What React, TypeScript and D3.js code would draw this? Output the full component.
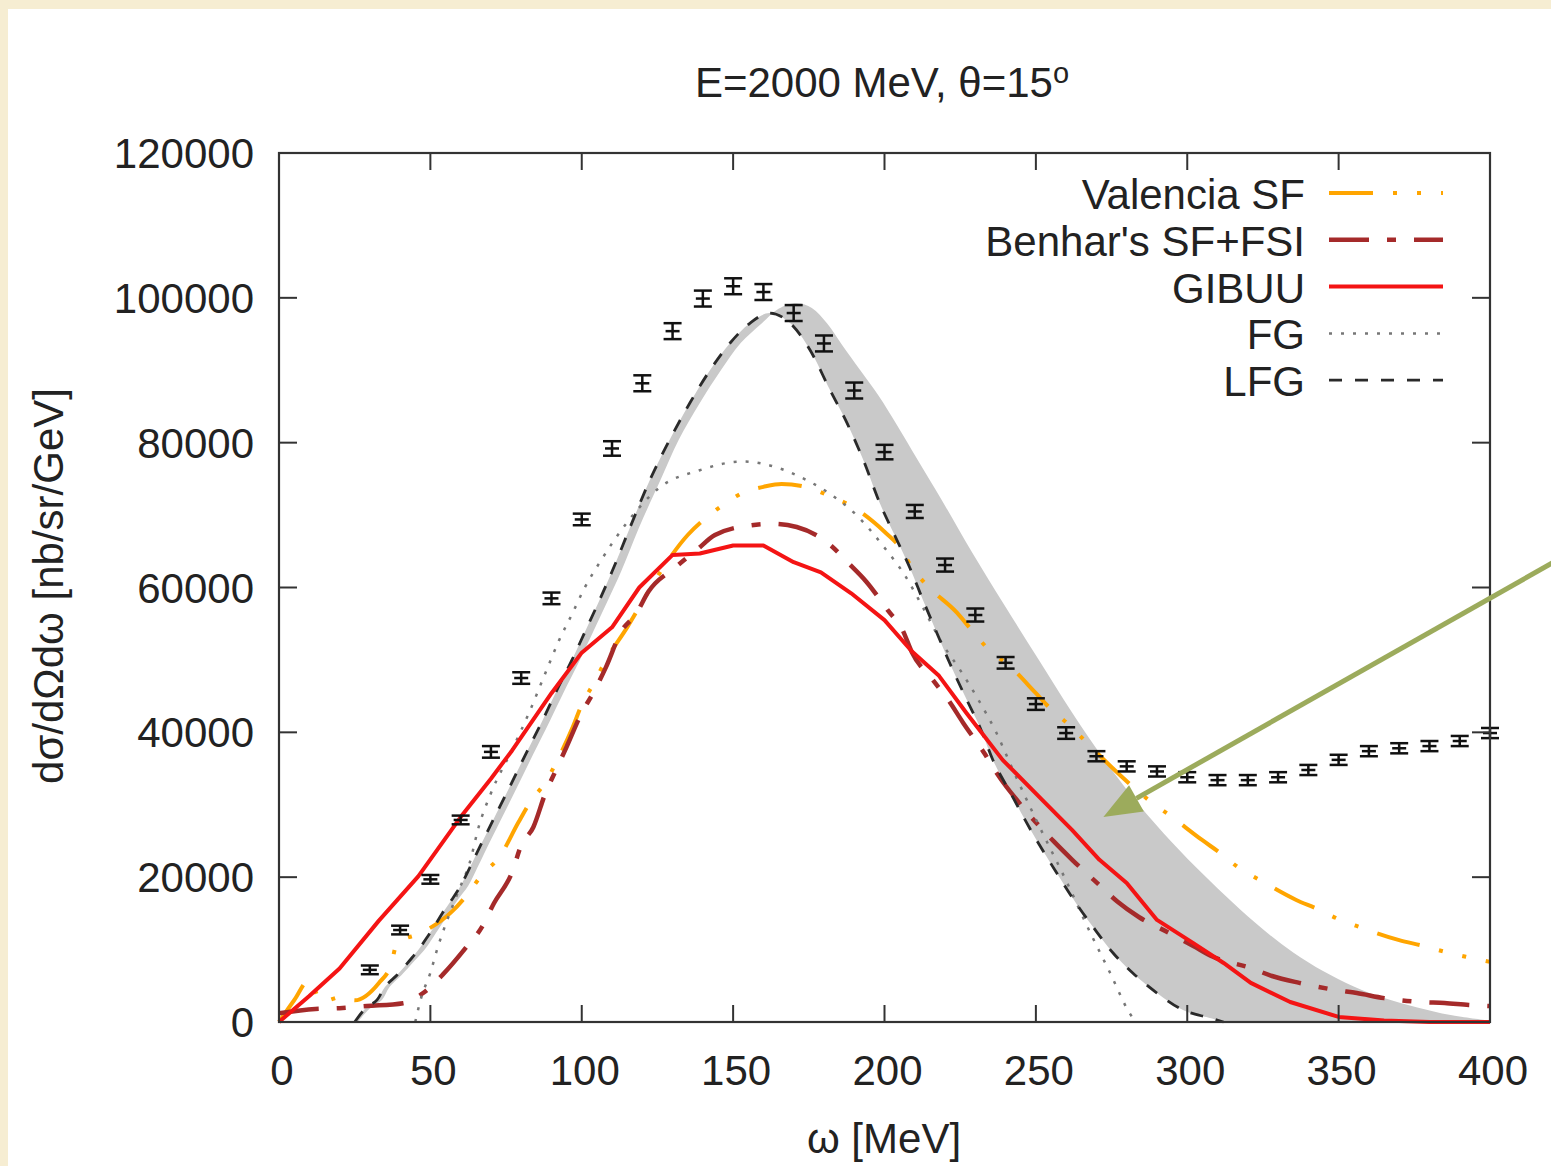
import React from "react";
import * as d3 from "d3";

// ---------- data ----------
const dataOmega = [30, 40, 50, 60, 70, 80, 90, 100, 110, 120, 130, 140, 150, 160, 170, 180, 190, 200, 210, 220, 230, 240, 250, 260, 270, 280, 290, 300, 310, 320, 330, 340, 350, 360, 370, 380, 390, 400];
const dataValue = [7200, 12700, 19700, 27900, 37300, 47500, 58500, 69400, 79200, 88200, 95400, 99900, 101600, 100800, 97900, 93700, 87200, 78700, 70500, 63100, 56200, 49600, 43900, 39900, 36700, 35300, 34600, 33800, 33400, 33400, 33800, 34800, 36200, 37400, 37800, 38100, 38800, 39900];
const dataError = [600, 600, 600, 600, 800, 800, 800, 800, 1000, 1100, 1100, 1100, 1100, 1100, 1100, 1100, 1100, 1000, 900, 900, 900, 800, 800, 800, 700, 700, 700, 700, 700, 700, 700, 700, 700, 700, 700, 700, 700, 700];

const gibuuOmega = [0, 10, 20, 33, 46, 60, 70, 77, 90, 100, 110, 119, 130, 139, 150, 160, 170, 179, 189, 200, 209, 218, 227, 239, 252, 262, 271, 280, 290, 302, 312, 321, 334, 350, 365, 380, 400];
const gibuuValue = [0, 3600, 7400, 14000, 20100, 28300, 33600, 37500, 45400, 51000, 54500, 60000, 64500, 64700, 65800, 65800, 63500, 62100, 59200, 55500, 51200, 47800, 42700, 36200, 30700, 26500, 22400, 19200, 14100, 10900, 8150, 5400, 2760, 700, 200, 0, 0];

const valenciaOmega = [0, 5, 10, 14, 21, 25, 33, 37, 39, 47, 57, 62, 67, 73, 79, 83, 88, 92, 97, 100, 104, 108, 115, 119, 127, 135, 141, 147, 153, 160, 166, 174, 182, 189, 200, 205, 209, 214, 224, 229, 234, 242, 250, 255, 261, 267, 276, 282, 288, 294, 305, 311, 317, 324, 336, 343, 350, 357, 370, 378, 385, 392, 400];
const valenciaValue = [0, 3000, 5800, 2800, 3500, 3000, 5400, 7900, 10900, 12300, 15200, 17500, 20300, 22900, 27500, 30400, 33100, 36200, 40700, 43800, 46800, 50000, 54500, 57300, 62800, 67250, 69600, 71500, 73050, 73900, 74300, 73900, 72600, 71250, 67700, 65600, 62800, 60300, 56500, 54000, 51600, 48900, 45400, 43200, 41000, 38500, 34800, 32500, 30400, 28600, 25100, 23300, 21300, 19600, 16850, 15600, 14200, 13100, 11300, 10500, 9700, 9000, 8300];

const benharOmega = [0, 12, 20, 29, 41, 47.6, 54, 62, 67, 71, 77, 80, 84, 88, 91.5, 95, 100, 104, 108, 113, 118, 122, 131, 138, 144, 156, 163, 171, 182, 188, 194, 201, 206, 209, 216, 221, 226, 233, 237, 246, 256, 262, 271, 277, 284, 294, 302, 308.5, 321, 328, 337, 349, 356, 365, 377, 385, 393, 400];
const benharValue = [1200, 1800, 1900, 2200, 2600, 4000, 6500, 10400, 13100, 16400, 20700, 24400, 26900, 31600, 34800, 38000, 42700, 45600, 49000, 53900, 56400, 59400, 62800, 65200, 67250, 68600, 68800, 68350, 65900, 63400, 60800, 56900, 54100, 51100, 47200, 44500, 41300, 37100, 34400, 29500, 24900, 22400, 18900, 16600, 14500, 12300, 10500, 9000, 7460, 6350, 5400, 4420, 4000, 3300, 2760, 2620, 2350, 2200];

const fgOmega = [45, 47, 50, 52, 59, 63, 66, 70, 77, 83, 88, 92.5, 97, 101, 106, 115, 126, 139, 153, 165, 172, 181, 190, 200, 207, 213, 219, 225, 231, 237, 242, 250, 260, 268, 274.5, 281, 283];
const fgValue = [0, 3400, 6800, 9700, 17800, 22000, 27000, 31600, 37600, 43100, 48200, 52700, 56500, 60000, 63500, 69000, 73900, 76200, 77400, 76500, 75300, 73200, 70300, 65500, 61500, 57000, 52300, 48600, 44500, 39900, 35200, 28000, 19500, 12300, 6800, 1200, 0];

const lfgOmega = [25, 29, 32.4, 35, 39, 43.3, 46, 49, 52, 54, 57, 60, 63, 66, 70.5, 76, 81.5, 87, 91.4, 96.9, 101.3, 105.7, 110, 116, 122.5, 129, 135.7, 142.4, 149, 155.6, 162, 168.8, 175.4, 182, 187.6, 193, 198.5, 203, 208.4, 212.7, 217.3, 221.6, 227.2, 231.5, 235.8, 241.4, 249, 257, 263.6, 268.9, 275.5, 282, 290, 298.6, 307.5, 312];
const lfgValue = [0, 2070, 3040, 4830, 6490, 8560, 9940, 11740, 13670, 15050, 16850, 18800, 21300, 23900, 27700, 32300, 37000, 41600, 45500, 50100, 54100, 58100, 62200, 68350, 74840, 80370, 85470, 90030, 93760, 96520, 97900, 96520, 92800, 87270, 82720, 77610, 71600, 67520, 62700, 58270, 53720, 49500, 44460, 40740, 36180, 31800, 26000, 20500, 16200, 13120, 9530, 6770, 4000, 1660, 550, 0];

// outer edge of the grey uncertainty band (the other edge is the LFG curve)
const bandOmega = [26, 30.5, 34, 36.5, 40.5, 45, 48, 51, 54, 59, 62.5, 65.5, 68.5, 73, 78.5, 84, 89.5, 94, 99.5, 104, 108.5, 113, 119, 126, 132, 139, 146, 152.5, 159.5, 165, 171, 176, 181, 186, 192, 198, 204, 209, 214, 220, 229, 240, 251, 262, 273, 284, 295, 305, 315, 325, 335, 345, 355, 365, 376, 387, 400];
const bandEdge = [0, 2070, 3040, 4830, 6490, 8560, 9940, 11740, 13670, 16850, 18800, 21300, 23900, 27700, 32300, 37000, 41600, 45500, 50100, 54100, 58100, 62200, 68350, 74840, 80370, 85470, 90030, 93760, 96500, 98500, 99300, 98600, 96500, 93500, 90000, 86500, 82500, 79000, 75500, 71300, 64800, 57300, 50000, 42700, 36000, 30000, 24800, 20500, 16500, 12800, 9600, 7000, 4900, 3300, 2000, 950, 200];

const xTicks = [0, 50, 100, 150, 200, 250, 300, 350, 400];
const yTicks = [0, 20000, 40000, 60000, 80000, 100000, 120000];

const legendLabels = ["Valencia SF", "Benhar's SF+FSI", "GIBUU", "FG", "LFG"];

const titleText = "E=2000 MeV, θ=15";
const xLabel = "ω [MeV]";
const yLabel = "dσ/dΩdω [nb/sr/GeV]";

// annotation arrow (in data units)
const arrowFrom = { omega: 421, value: 63500 };
const arrowTo = { omega: 272.3, value: 28300 };

// ---------- styling ----------
const W = 1551;
const H = 1166;
const FONT = "'Liberation Sans', Arial, Helvetica, sans-serif";
const TEXT = "#222";
const AXIS = "#333";

const styles = {
  valencia: { stroke: "#ffa500", width: 4, dash: "44 20 4 20 4 20" },
  benhar: { stroke: "#a52a2a", width: 4.5, dash: "40 18 9 18" },
  gibuu: { stroke: "#f41414", width: 4, dash: "" },
  fg: { stroke: "#777", width: 2.5, dash: "3 9" },
  lfg: { stroke: "#2a2a2a", width: 2.8, dash: "13 13" },
};

export default function App() {
  const x = d3.scaleLinear().domain([0, 400]).range([279, 1490]);
  const y = d3.scaleLinear().domain([0, 120000]).range([1022, 153]);

  const zip = (a: number[], b: number[]): [number, number][] => a.map((v, i) => [v, b[i]]);

  const smooth = d3
    .line<[number, number]>()
    .x((d) => x(d[0]))
    .y((d) => y(d[1]))
    .curve(d3.curveMonotoneX);
  const straight = d3
    .line<[number, number]>()
    .x((d) => x(d[0]))
    .y((d) => y(d[1]))
    .curve(d3.curveLinear);
  const cr = d3
    .line<[number, number]>()
    .x((d) => x(d[0]))
    .y((d) => y(d[1]))
    .curve(d3.curveCatmullRom.alpha(0.5));

  const lfgPts = zip(lfgOmega, lfgValue);
  const bandPts = zip(bandOmega, bandEdge).reverse();
  const bandPath = (cr(lfgPts) || "") + (cr(bandPts) || "").replace(/^M/, "L") + "Z";

  const series = [
    { key: "valencia", d: smooth(zip(valenciaOmega, valenciaValue)) },
    { key: "benhar", d: smooth(zip(benharOmega, benharValue)) },
    { key: "fg", d: smooth(zip(fgOmega, fgValue)) },
    { key: "lfg", d: smooth(lfgPts) },
    { key: "gibuu", d: straight(zip(gibuuOmega, gibuuValue)) },
  ];

  const legendKeys = ["valencia", "benhar", "gibuu", "fg", "lfg"];
  const legendY0 = 193;
  const legendStep = 46.8;

  // arrow geometry
  const ax1 = x(arrowFrom.omega);
  const ay1 = y(arrowFrom.value);
  const ax2 = x(arrowTo.omega);
  const ay2 = y(arrowTo.value);
  const ang = Math.atan2(ay2 - ay1, ax2 - ax1);
  const headLen = 38;
  const headHalf = 15;
  const bx = ax2 - headLen * Math.cos(ang);
  const by = ay2 - headLen * Math.sin(ang);
  const px = -Math.sin(ang);
  const py = Math.cos(ang);
  const head = `M${ax2},${ay2}L${bx + headHalf * px},${by + headHalf * py}L${bx - headHalf * px},${by - headHalf * py}Z`;

  return (
    <svg
      width={W}
      height={H}
      viewBox={`0 0 ${W} ${H}`}
      style={{ position: "absolute", left: 0, top: 0, display: "block" }}
      fontFamily={FONT}
    >
      <rect x={0} y={0} width={W} height={H} fill="#f6edd2" />
      <rect x={8} y={9} width={W - 8} height={H - 9} fill="#ffffff" />

      {/* grey band */}
      <path d={bandPath} fill="#c9c9c9" stroke="none" />

      {/* model curves */}
      {series.map((s) => {
        const st = (styles as any)[s.key];
        return (
          <path
            key={s.key}
            d={s.d || ""}
            fill="none"
            stroke={st.stroke}
            strokeWidth={st.width}
            strokeDasharray={st.dash || undefined}
            strokeLinejoin="round"
          />
        );
      })}

      {/* data with error bars */}
      {dataOmega.map((w, i) => {
        const cx = x(w);
        const yt = y(dataValue[i] + dataError[i]);
        const yb = y(dataValue[i] - dataError[i]);
        const yc = y(dataValue[i]);
        return (
          <g key={w} stroke="#111" strokeWidth={2.5}>
            <line x1={cx} x2={cx} y1={yt} y2={yb} />
            <line x1={cx - 9} x2={cx + 9} y1={yt} y2={yt} />
            <line x1={cx - 9} x2={cx + 9} y1={yb} y2={yb} />
            <line x1={cx - 7} x2={cx + 7} y1={yc} y2={yc} />
          </g>
        );
      })}

      {/* frame */}
      <rect x={x(0)} y={y(120000)} width={x(400) - x(0)} height={y(0) - y(120000)} fill="none" stroke={AXIS} strokeWidth={2.2} />

      {/* ticks */}
      {xTicks.map((t) => (
        <g key={"xt" + t} stroke={AXIS} strokeWidth={2}>
          <line x1={x(t)} x2={x(t)} y1={y(0)} y2={y(0) - 17} />
          <line x1={x(t)} x2={x(t)} y1={y(120000)} y2={y(120000) + 17} />
        </g>
      ))}
      {yTicks.map((t) => (
        <g key={"yt" + t} stroke={AXIS} strokeWidth={2}>
          <line x1={x(0)} x2={x(0) + 18} y1={y(t)} y2={y(t)} />
          <line x1={x(400)} x2={x(400) - 18} y1={y(t)} y2={y(t)} />
        </g>
      ))}

      {/* tick labels */}
      {xTicks.map((t) => (
        <text key={"xl" + t} x={x(t) + 3} y={1085} textAnchor="middle" fontSize={42} fill={TEXT}>
          {t}
        </text>
      ))}
      {yTicks.map((t) => (
        <text key={"yl" + t} x={254} y={y(t) + 15} textAnchor="end" fontSize={42} fill={TEXT}>
          {t}
        </text>
      ))}

      {/* axis titles */}
      <text x={884} y={1153} textAnchor="middle" fontSize={42} fill={TEXT}>
        {xLabel}
      </text>
      <text transform="translate(63,586) rotate(-90)" textAnchor="middle" fontSize={42} fill={TEXT}>
        {yLabel}
      </text>

      {/* title */}
      <text x={882} y={97} textAnchor="middle" fontSize={42} fill={TEXT}>
        {titleText}
        <tspan fontSize={29} dy={-14}>
          o
        </tspan>
      </text>

      {/* legend */}
      {legendKeys.map((k, i) => {
        const st = (styles as any)[k];
        const ly = legendY0 + i * legendStep;
        return (
          <g key={"lg" + k}>
            <text x={1305} y={ly + 16} textAnchor="end" fontSize={42} fill={TEXT}>
              {legendLabels[i]}
            </text>
            <line
              x1={1329}
              x2={1443}
              y1={ly}
              y2={ly}
              stroke={st.stroke}
              strokeWidth={st.width}
              strokeDasharray={st.dash || undefined}
            />
          </g>
        );
      })}

      {/* annotation arrow */}
      <line x1={ax1} y1={ay1} x2={bx} y2={by} stroke="#9cab5c" strokeWidth={5} />
      <path d={head} fill="#9cab5c" />
    </svg>
  );
}
